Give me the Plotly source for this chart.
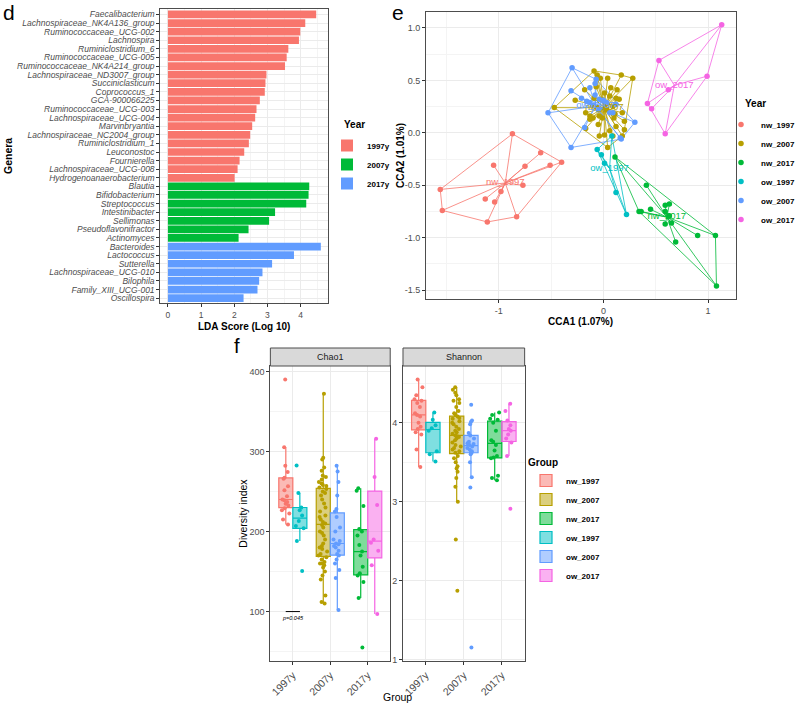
import plotly.graph_objects as go

# ---------------- panel d : LDA scores ----------------
genera_1997 = ["Faecalibacterium", "Lachnospiraceae_NK4A136_group", "Ruminococcaceae_UCG-002",
               "Lachnospira", "Ruminiclostridium_6", "Ruminococcaceae_UCG-005",
               "Ruminococcaceae_NK4A214_group", "Lachnospiraceae_ND3007_group", "Succiniclasticum",
               "Coprococcus_1", "GCA-900066225", "Ruminococcaceae_UCG-003", "Lachnospiraceae_UCG-004",
               "Marvinbryantia", "Lachnospiraceae_NC2004_group", "Ruminiclostridium_1", "Leuconostoc",
               "Fournierella", "Lachnospiraceae_UCG-008", "Hydrogenoanaerobacterium"]
lda_1997 = [4.47, 4.14, 3.99, 3.95, 3.63, 3.58, 3.53, 2.97, 2.94, 2.92, 2.77, 2.67, 2.63,
            2.54, 2.48, 2.44, 2.30, 2.16, 2.10, 2.01]
genera_2007 = ["Blautia", "Bifidobacterium", "Streptococcus", "Intestinibacter", "Sellimonas",
               "Pseudoflavonifractor", "Actinomyces"]
lda_2007 = [4.26, 4.24, 4.17, 3.23, 3.05, 2.43, 2.13]
genera_2017 = ["Bacteroides", "Lactococcus", "Sutterella", "Lachnospiraceae_UCG-010", "Bilophila",
               "Family_XIII_UCG-001", "Oscillospira"]
lda_2017 = [4.61, 3.80, 3.14, 2.85, 2.75, 2.70, 2.28]
lda_years = ["1997y", "2007y", "2017y"]

# ---------------- panel e : CCA ordination ----------------
cca_groups = ["nw_1997", "nw_2007", "nw_2017", "ow_1997", "ow_2007", "ow_2017"]
nw_1997_cca1 = [-0.87, -0.60, -0.40, -0.51, -0.75, -1.05, -0.77, -0.98, -1.13, -1.04, -1.56, -1.54, -1.11, -0.83]
nw_1997_cca2 = [-0.01, -0.19, -0.28, -0.31, -0.32, -0.31, -0.50, -0.56, -0.63, -0.66, -0.54, -0.74, -0.85, -0.80]
nw_2007_cca1 = [-0.09, -0.06, -0.03, 0.04, 0.17, 0.28, -0.47, -0.27, -0.18, -0.07, 0.01, 0.06, 0.12, 0.15,
                0.07, 0.13, -0.02, -0.09, 0.03, 0.09, 0.18, 0.20, 0.20, 0.12, 0.10, -0.01, -0.04, -0.10,
                -0.13, -0.17, -0.13, -0.05, 0.01, 0.09, -0.04, 0.06, 0.18, 0.04, -0.17, 0.03, -0.06, 0.11]
nw_2007_cca2 = [0.59, 0.55, 0.52, 0.52, 0.55, 0.52, 0.24, 0.31, 0.41, 0.44, 0.38, 0.35, 0.33, 0.32,
                0.43, 0.41, 0.32, 0.33, 0.22, 0.25, 0.19, 0.11, 0.03, 0.06, 0.14, 0.14, 0.16, 0.14,
                0.16, 0.19, 0.13, 0.08, -0.02, -0.03, -0.03, 0.02, -0.03, -0.14, 0.04, 0.28, 0.24, 0.18]
nw_2017_cca1 = [0.11, 0.41, 0.34, 0.36, 0.45, 0.59, 0.63, 0.59, 0.63, 0.59, 0.65, 0.69, 0.90, 1.07, 1.08]
nw_2017_cca2 = [-0.23, -0.50, -0.75, -0.75, -0.73, -0.69, -0.68, -0.75, -0.79, -0.87, -0.86, -1.04, -0.98, -0.98, -1.46]
ow_1997_cca1 = [-0.06, -0.02, 0.01, 0.08, 0.12, 0.22]
ow_1997_cca2 = [-0.16, -0.21, -0.29, -0.03, -0.57, -0.78]
ow_2007_cca1 = [-0.30, -0.31, -0.53, -0.31, 0.30, 0.17, -0.13, -0.08, -0.07, -0.21, -0.16, -0.10,
                -0.04, 0.03, 0.09, 0.06, -0.05, -0.13, 0.12, -0.18, 0.16, -0.08, 0.00]
ow_2007_cca2 = [0.62, 0.40, 0.19, -0.14, 0.10, -0.06, 0.43, 0.47, 0.51, 0.33, 0.30, 0.26,
                0.32, 0.29, 0.19, 0.19, 0.22, 0.29, 0.27, 0.05, -0.05, 0.36, 0.31]
ow_2017_cca1 = [1.13, 0.53, 0.99, 0.62, 0.42, 0.46, 0.59]
ow_2017_cca2 = [1.03, 0.69, 0.54, 0.41, 0.28, 0.23, -0.01]

# ---------------- panel f : alpha diversity ----------------
div_years = ["1997y", "2007y", "2017y"]
chao1_nw_1997 = [208.7, 214.9, 222.4, 226.5, 229, 232.4, 234.8, 237, 239, 240, 244, 251.4, 256.4,
                 266, 267.2, 274.3, 282.2, 305.4, 390]
chao1_ow_1997 = [150.6, 188.3, 204, 207, 213.2, 220, 226.5, 230, 248, 282.6]
chao1_nw_2007 = [110, 112, 120, 140, 145, 150, 155, 158, 160, 160, 162, 165, 168, 170, 172, 175, 178,
                 180, 182, 185, 190, 195, 198, 200, 205, 208, 210, 212, 215, 218, 220, 225, 230, 235,
                 240, 245, 248, 250, 253, 255, 257, 258, 260, 262, 265, 268, 270, 276, 280, 290, 292, 372]
chao1_ow_2007 = [102, 142, 152, 160, 165, 170, 172, 176, 180, 182, 184, 185, 188, 190, 200, 205, 218,
                 225, 228, 245, 262, 275, 282]
chao1_nw_2017 = [55, 117, 137, 145, 148, 156, 170, 175, 183, 195, 200, 203, 232, 251, 254]
chao1_ow_2017 = [97, 158, 176, 186, 190, 233, 268, 316]
shannon_nw_1997 = [3.44, 3.66, 3.85, 3.88, 3.92, 3.95, 4.0, 4.08, 4.1, 4.12, 4.2, 4.25, 4.28, 4.3,
                   4.35, 4.45, 4.55]
shannon_ow_1997 = [3.51, 3.60, 3.64, 3.90, 3.93, 3.97, 4.04, 4.13]
shannon_nw_2007 = [1.87, 2.52, 3.0, 3.19, 3.3, 3.38, 3.42, 3.45, 3.5, 3.55, 3.58, 3.62,
                   3.64, 3.66, 3.68, 3.7, 3.72, 3.75, 3.78, 3.8, 3.82, 3.83, 3.84, 3.86, 3.88, 3.9,
                   3.92, 3.95, 3.98, 4.0, 4.02, 4.05, 4.06,
                   4.08, 4.1, 4.12, 4.15, 4.2, 4.25, 4.28, 4.3, 4.35, 4.38, 4.42, 4.45]
shannon_ow_2007 = [1.15, 3.18, 3.31, 3.5, 3.6, 3.62, 3.63, 3.64, 3.66, 3.68, 3.7, 3.72, 3.73, 3.74,
                   3.76, 3.8, 3.84, 3.87, 3.98, 4.01, 4.03, 4.23]
shannon_nw_2017 = [3.27, 3.3, 3.33, 3.55, 3.56, 3.58, 3.65, 3.72, 3.76, 3.78, 3.9, 4.0, 4.04, 4.05,
                   4.1, 4.13]
shannon_ow_2017 = [2.91, 3.58, 3.75, 3.8, 3.85, 3.9, 3.92, 3.97, 4.03, 4.15, 4.24]
p_label = "p=0.045"
p_level = 100

# ---------------- styling ----------------
W, H = 800, 704
FONT = "Liberation Sans, Arial, sans-serif"
year_colors = {"1997y": "#F8766D", "2007y": "#00BA38", "2017y": "#619CFF"}
grp_colors = {"nw_1997": "#F8766D", "nw_2007": "#B79F00", "nw_2017": "#00BA38",
              "ow_1997": "#00BFC4", "ow_2007": "#619CFF", "ow_2017": "#F564E3"}


def px(x):
    return x / W


def py(y):
    return 1 - y / H


def rgba(h, a):
    h = h.lstrip("#")
    return "rgba(%d,%d,%d,%.2f)" % (int(h[0:2], 16), int(h[2:4], 16), int(h[4:6], 16), a)


def axis(domain, **kw):
    d = dict(domain=domain, showline=True, mirror=True, linecolor="#4d4d4d", linewidth=1,
             ticks="outside", ticklen=3, tickcolor="#333333", tickwidth=1,
             showgrid=True, gridcolor="#EBEBEB", gridwidth=1, zeroline=False,
             tickfont=dict(family=FONT, size=9, color="#4D4D4D"), automargin=False)
    d.update(kw)
    return d


def expand(vals, f=0.05):
    lo, hi = min(vals), max(vals)
    e = (hi - lo) * f
    return [lo - e, hi + e]


def hull(pts):
    pts = sorted(set(pts))
    if len(pts) <= 2:
        return pts

    def cross(o, a, b):
        return (a[0] - o[0]) * (b[1] - o[1]) - (a[1] - o[1]) * (b[0] - o[0])
    lower, upper = [], []
    for p in pts:
        while len(lower) >= 2 and cross(lower[-2], lower[-1], p) <= 0:
            lower.pop()
        lower.append(p)
    for p in reversed(pts):
        while len(upper) >= 2 and cross(upper[-2], upper[-1], p) <= 0:
            upper.pop()
        upper.append(p)
    return lower[:-1] + upper[:-1]


fig = go.Figure()

# ---- panel d bars ----
lda_sets = {"1997y": (genera_1997, lda_1997), "2007y": (genera_2007, lda_2007),
            "2017y": (genera_2017, lda_2017)}
for yr in lda_years:
    g, v = lda_sets[yr]
    fig.add_trace(go.Bar(x=v, y=g, orientation="h", name=yr,
                         marker=dict(color=year_colors[yr], line=dict(width=0)),
                         xaxis="x", yaxis="y", legend="legend"))
all_genera = genera_1997 + genera_2007 + genera_2017
all_lda = lda_1997 + lda_2007 + lda_2017

# ---- panel e ----
cca_data = {"nw_1997": (nw_1997_cca1, nw_1997_cca2), "nw_2007": (nw_2007_cca1, nw_2007_cca2),
            "nw_2017": (nw_2017_cca1, nw_2017_cca2), "ow_1997": (ow_1997_cca1, ow_1997_cca2),
            "ow_2007": (ow_2007_cca1, ow_2007_cca2), "ow_2017": (ow_2017_cca1, ow_2017_cca2)}
cent = {}
for g in cca_groups:
    xs, ys = cca_data[g]
    cent[g] = (sum(xs) / len(xs), sum(ys) / len(ys))
for g in cca_groups:
    xs, ys = cca_data[g]
    h = hull(list(zip(xs, ys)))
    h = h + [h[0]]
    fig.add_trace(go.Scatter(x=[p[0] for p in h], y=[p[1] for p in h], mode="lines",
                             line=dict(color=grp_colors[g], width=0.8), showlegend=False,
                             xaxis="x2", yaxis="y2", hoverinfo="skip"))
for g in cca_groups:
    xs, ys = cca_data[g]
    cx, cy = cent[g]
    sx, sy = [], []
    for a, b in zip(xs, ys):
        sx += [cx, a, None]
        sy += [cy, b, None]
    fig.add_trace(go.Scatter(x=sx, y=sy, mode="lines", line=dict(color=grp_colors[g], width=0.8),
                             showlegend=False, xaxis="x2", yaxis="y2", hoverinfo="skip"))
for i, g in enumerate(cca_groups):
    xs, ys = cca_data[g]
    fig.add_trace(go.Scatter(x=xs, y=ys, mode="markers", name=g,
                             marker=dict(color=grp_colors[g], size=5.5), legend="legend2",
                             legendrank=i + 1, xaxis="x2", yaxis="y2"))
for g in cca_groups:
    cx, cy = cent[g]
    fig.add_trace(go.Scatter(x=[cx], y=[cy], mode="text", text=[g], showlegend=False,
                             textfont=dict(family=FONT, size=9.5, color=grp_colors[g]),
                             xaxis="x2", yaxis="y2", hoverinfo="skip"))
all_c1 = sum([cca_data[g][0] for g in cca_groups], [])
all_c2 = sum([cca_data[g][1] for g in cca_groups], [])

# ---- panel f ----
chao1 = {"nw_1997": chao1_nw_1997, "nw_2007": chao1_nw_2007, "nw_2017": chao1_nw_2017,
         "ow_1997": chao1_ow_1997, "ow_2007": chao1_ow_2007, "ow_2017": chao1_ow_2017}
shannon = {"nw_1997": shannon_nw_1997, "nw_2007": shannon_nw_2007, "nw_2017": shannon_nw_2017,
           "ow_1997": shannon_ow_1997, "ow_2007": shannon_ow_2007, "ow_2017": shannon_ow_2017}
for metric, axx, axy, first in [(chao1, "x3", "y3", True), (shannon, "x4", "y4", False)]:
    for i, g in enumerate(cca_groups):
        vals = metric[g]
        yr = g.split("_")[1] + "y"
        c = grp_colors[g]
        fig.add_trace(go.Box(x=[yr] * len(vals), y=vals, name=g, legendgroup=g, showlegend=first,
                             legend="legend3", legendrank=i + 1, offsetgroup=g[:2],
                             boxpoints="all", jitter=0.7, pointpos=0, whiskerwidth=0,
                             marker=dict(color=c, size=4), line=dict(color=c, width=1.2),
                             fillcolor=rgba(c, 0.5), xaxis=axx, yaxis=axy))
all_chao = sum(chao1.values(), [])
all_shan = sum(shannon.values(), [])

# ---------------- layout ----------------
legend_font = dict(family=FONT, size=8, color="#000", weight="bold")
xtick_f = dict(family=FONT, size=10.5, color="#4D4D4D")
layout = dict(
    width=W, height=H, template="none", margin=dict(l=0, r=0, t=0, b=0),
    paper_bgcolor="white", plot_bgcolor="white", font=dict(family=FONT, color="#000"),
    barmode="overlay", bargap=0.1, boxmode="group", boxgap=0.25, boxgroupgap=0,
    xaxis=axis([px(160.5), px(328.9)], range=expand([0] + all_lda), tickvals=[0, 1, 2, 3, 4],
               minor=dict(dtick=0.5, showgrid=True, gridcolor="#F4F4F4", ticks=""),
               tickfont=dict(family=FONT, size=8.5, color="#4D4D4D")),
    yaxis=axis([py(303.3), py(9.3)], type="category", categoryorder="array", categoryarray=all_genera,
               range=[len(all_genera) - 0.4, -0.6], tickmode="array", tickvals=all_genera,
               tickfont=dict(family=FONT, size=8.5, color="#4D4D4D", style="italic")),
    xaxis2=axis([px(426.7), px(736.7)], anchor="y2", range=expand(all_c1),
                tickvals=[-1, 0, 1], ticktext=["-1", "0", "1"],
                minor=dict(tickvals=[-1.5, -0.5, 0.5], showgrid=True, gridcolor="#F4F4F4", ticks="")),
    yaxis2=axis([py(299), py(11.7)], anchor="x2", range=expand(all_c2),
                tickvals=[-1.5, -1.0, -0.5, 0.0, 0.5, 1.0],
                ticktext=["-1.5", "-1.0", "-0.5", "0.0", "0.5", "1.0"],
                minor=dict(tickvals=[-1.25, -0.75, -0.25, 0.25, 0.75], showgrid=True,
                           gridcolor="#F4F4F4", ticks="")),
    xaxis3=axis([px(270.7), px(390.7)], anchor="y3", type="category", categoryorder="array",
                categoryarray=div_years, range=[-0.6, 2.6], tickangle=-45, tickfont=xtick_f),
    yaxis3=axis([py(661), py(366)], anchor="x3", range=expand(all_chao), tickvals=[100, 200, 300, 400],
                minor=dict(tickvals=[50, 150, 250, 350], showgrid=True, gridcolor="#F4F4F4", ticks="")),
    xaxis4=axis([px(403.5), px(525.3)], anchor="y4", type="category", categoryorder="array",
                categoryarray=div_years, range=[-0.6, 2.6], tickangle=-45, tickfont=xtick_f),
    yaxis4=axis([py(661), py(366)], anchor="x4", range=expand(all_shan), tickvals=[1, 2, 3, 4],
                minor=dict(tickvals=[1.5, 2.5, 3.5, 4.5], showgrid=True, gridcolor="#F4F4F4", ticks="")),
    legend=dict(x=px(327), y=py(131), xanchor="left", yanchor="top", font=legend_font,
                bgcolor="rgba(0,0,0,0)", itemwidth=30, traceorder="normal"),
    legend2=dict(x=px(722), y=py(110), xanchor="left", yanchor="top", font=legend_font,
                 bgcolor="rgba(0,0,0,0)", itemwidth=30, traceorder="normal"),
    legend3=dict(x=px(526), y=py(453), xanchor="left", yanchor="top", font=legend_font,
                 bgcolor="rgba(0,0,0,0)", itemwidth=30, traceorder="normal",
                 title=dict(text="Group", font=dict(family=FONT, size=10, color="#000", weight="bold"))),
)
fig.update_layout(**layout)

ann = []


def note(text, x, y, size=10, bold=False, angle=0, color="#000", italic=False, xanchor="center"):
    ann.append(dict(text=text, x=px(x), y=py(y), xref="paper", yref="paper", showarrow=False,
                    xanchor=xanchor, yanchor="middle", textangle=angle,
                    font=dict(family=FONT, size=size, color=color, weight="bold" if bold else "normal",
                              style="italic" if italic else "normal")))


note("d", 9, 12, size=21)
note("e", 398, 12, size=21)
note("f", 237, 346, size=20)
note("LDA Score (Log 10)", 244.7, 326, size=10, bold=True)
note("Genera", 8, 156, size=10.5, bold=True, angle=-90)
note("CCA1 (1.07%)", 581.7, 321.5, size=10, bold=True)
note("CCA2 (1.01%)", 400.5, 155, size=10, bold=True, angle=-90)
note("Year", 342, 125, size=10, bold=True, xanchor="left")
note("Year", 744, 104, size=10, bold=True, xanchor="left")
note("Diversity index", 243, 513, size=10.5, angle=-90)
note("Group", 398, 697, size=10.5)
note("Chao1", (270.7 + 390.7) / 2, 357, size=9, color="#1A1A1A")
note("Shannon", (403.5 + 525.3) / 2, 357, size=9, color="#1A1A1A")
ann.append(dict(text=p_label, x=0, y=p_level, xref="x3", yref="y3", showarrow=False, yshift=-6,
                font=dict(family=FONT, size=5.5, color="#000", style="italic")))
fig.update_layout(annotations=ann)

shapes = []
for x0, x1 in [(270.7, 390.7), (403.5, 525.3)]:
    shapes.append(dict(type="rect", xref="paper", yref="paper", x0=px(x0), x1=px(x1),
                       y0=py(366), y1=py(348), fillcolor="#D9D9D9", line=dict(color="#4d4d4d", width=1)))
shapes.append(dict(type="line", xref="x3", yref="y3", x0=-0.19, x1=0.19, y0=p_level, y1=p_level,
                   line=dict(color="#000", width=1)))
fig.update_layout(shapes=shapes)

fig.write_html("out.html", config={"displayModeBar": False},
               post_script="document.body.style.margin='0px';document.body.style.overflow='hidden';")
